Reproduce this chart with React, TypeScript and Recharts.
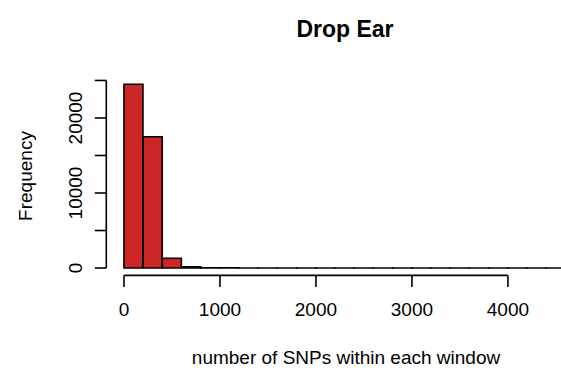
import React from "react";
import { Bar, ComposedChart, ReferenceLine, XAxis, YAxis } from "recharts";

// histogram bins (width 200), centre of each bin and its count
const binMids = [
  100, 300, 500, 700, 900, 1100, 1300, 1500, 1700, 1900, 2100, 2300, 2500, 2700,
  2900, 3100, 3300, 3500, 3700, 3900, 4100, 4300, 4500,
];
const counts = [
  24500, 17500, 1300, 180, 45, 20, 12, 8, 6, 4, 3, 3, 2, 6, 2, 2, 1, 1, 1, 1, 1, 1, 1,
];
const xTicks = [0, 1000, 2000, 3000, 4000];
const yTicks = [0, 5000, 10000, 15000, 20000, 25000];
const yLabelled = [0, 10000, 20000];

const X_DOMAIN: [number, number] = [-184, 4784];
const Y_DOMAIN: [number, number] = [-981, 25514];

const W = 620;
const H = 373;
const MARGIN = { top: 76.6, right: 36.8, bottom: 47.6, left: 46.3 };
const Y_AXIS_W = 60;
const X_AXIS_H = 50;

const FONT = '"Liberation Sans", Arial, sans-serif';
const INK = "#000";
const FILL = "#CD2626";
const LW = 1.6;

const data = binMids.map((mid, i) => ({ mid, count: counts[i] }));

function YTick({ x, y, payload }: any) {
  if (!yLabelled.includes(payload.value)) return null;
  return (
    <g transform={`translate(${x},${y}) rotate(-90)`}>
      <text textAnchor="middle" fontFamily={FONT} fontSize={19} fill={INK}>
        {payload.value}
      </text>
    </g>
  );
}

export default function App() {
  return (
    <div
      style={{
        position: "fixed",
        left: 0,
        top: 0,
        width: 561,
        height: 373,
        overflow: "hidden",
        background: "#fff",
      }}
    >
      <ComposedChart
        width={W}
        height={H}
        data={data}
        margin={MARGIN}
        barCategoryGap={0}
        barGap={0}
      >
        <XAxis
          dataKey="mid"
          type="number"
          domain={X_DOMAIN}
          allowDataOverflow
          ticks={xTicks}
          interval={0}
          height={X_AXIS_H}
          axisLine={false}
          tickLine={{ stroke: INK, strokeWidth: LW }}
          tickSize={11.5}
          tickMargin={16}
          tick={{ fill: INK, fontSize: 19, fontFamily: FONT }}
        />
        <YAxis
          type="number"
          domain={Y_DOMAIN}
          allowDataOverflow
          ticks={yTicks}
          interval={0}
          width={Y_AXIS_W}
          axisLine={false}
          tickLine={{ stroke: INK, strokeWidth: LW }}
          tickSize={11.5}
          tickMargin={13.1}
          tick={<YTick />}
        />
        <Bar
          dataKey="count"
          fill={FILL}
          stroke={INK}
          strokeWidth={LW}
          isAnimationActive={false}
        />
        <ReferenceLine
          segment={[
            { x: X_DOMAIN[0], y: 0 },
            { x: X_DOMAIN[0], y: 25000 },
          ]}
          stroke={INK}
          strokeWidth={LW}
          ifOverflow="visible"
        />
        <ReferenceLine
          segment={[
            { x: 0, y: Y_DOMAIN[0] },
            { x: 4000, y: Y_DOMAIN[0] },
          ]}
          stroke={INK}
          strokeWidth={LW}
          ifOverflow="visible"
        />
      </ComposedChart>
      <svg
        width={561}
        height={373}
        style={{ position: "absolute", left: 0, top: 0, pointerEvents: "none" }}
      >
        <text
          x={345}
          y={36.7}
          textAnchor="middle"
          fontFamily={FONT}
          fontSize={23}
          fontWeight="bold"
          fill={INK}
        >
          Drop Ear
        </text>
        <text x={346} y={364} textAnchor="middle" fontFamily={FONT} fontSize={19} fill={INK}>
          number of SNPs within each window
        </text>
        <text
          transform="translate(31.5,176) rotate(-90)"
          textAnchor="middle"
          fontFamily={FONT}
          fontSize={19}
          fill={INK}
        >
          Frequency
        </text>
      </svg>
    </div>
  );
}
